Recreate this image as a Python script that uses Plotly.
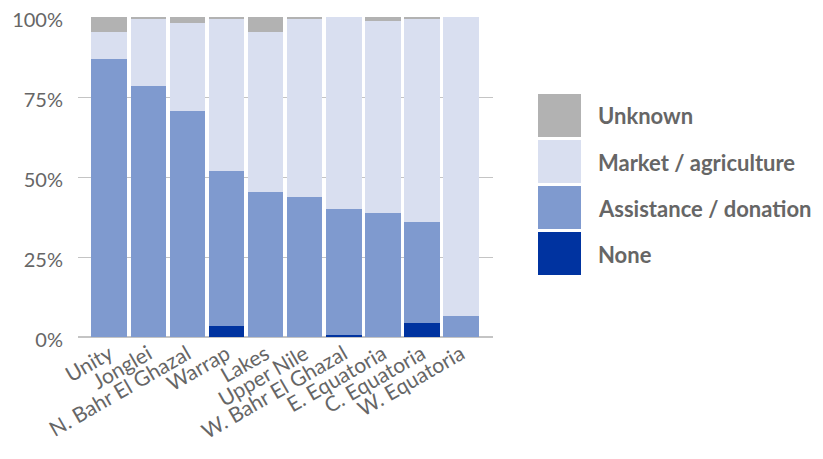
import plotly.graph_objects as go

regions = ["Unity", "Jonglei", "N. Bahr El Ghazal", "Warrap", "Lakes",
           "Upper Nile", "W. Bahr El Ghazal", "E. Equatoria", "C. Equatoria", "W. Equatoria"]

none_pct = [0.0, 0.0, 0.0, 3.5, 0.0, 0.0, 0.7, 0.0, 4.5, 0.0]
assistance_pct = [86.8, 78.4, 70.6, 48.4, 45.3, 43.8, 39.3, 38.8, 31.5, 6.6]
market_pct = [8.4, 20.9, 27.4, 47.4, 49.9, 55.5, 60.0, 59.9, 63.3, 93.4]
unknown_pct = [4.8, 0.7, 2.0, 0.7, 4.8, 0.7, 0.0, 1.3, 0.7, 0.0]

y_ticks = [0, 25, 50, 75, 100]
y_tick_labels = ["0%", "25%", "50%", "75%", "100%"]

series = [
    ("None", none_pct, "#0033a0"),
    ("Assistance / donation", assistance_pct, "#7f9acf"),
    ("Market / agriculture", market_pct, "#d9dff0"),
    ("Unknown", unknown_pct, "#b2b2b2"),
]

FONT = "Lato, 'Open Sans', sans-serif"
GREY = "#666666"

fig = go.Figure()
for name, vals, col in series:
    fig.add_trace(go.Bar(x=regions, y=vals, name=name,
                         marker=dict(color=col, line=dict(width=0)),
                         showlegend=False))

# page adds 8px body margin, so figure coords = screen coords - 8
OFF = 8
W, H = 815, 451
L, R, T, B = 78 - OFF, 493 - OFF, 17 - OFF, 337 - OFF


def px_x(x):
    return (x - OFF - L) / (R - L)


def px_y(y):
    return (B - (y - OFF)) / (B - T)


# hand drawn legend (big square swatches)
legend_items = ["Unknown", "Market / agriculture", "Assistance / donation", "None"]
legend_cols = {n: c for n, _, c in series}
for i, name in enumerate(legend_items):
    top = 94 + i * 46
    fig.add_shape(type="rect", xref="paper", yref="paper",
                  x0=px_x(538), x1=px_x(581), y0=px_y(top + 43), y1=px_y(top),
                  fillcolor=legend_cols[name], line=dict(width=0))
    fig.add_annotation(xref="paper", yref="paper", x=px_x(596), y=px_y(top + 22),
                       text="<b>" + name + "</b>", showarrow=False,
                       xanchor="left", yanchor="middle",
                       font=dict(family=FONT, size=22, color=GREY))

fig.update_layout(
    barmode="stack",
    bargap=0.087,
    width=W, height=H,
    margin=dict(l=L, r=W - R, t=T, b=H - B),
    plot_bgcolor="white",
    paper_bgcolor="white",
    font=dict(family=FONT, color=GREY),
    xaxis=dict(range=[-0.8, 9.82], tickangle=-30, showgrid=False, automargin=False,
               tickfont=dict(size=21, color=GREY), ticks="", showline=False,
               ticklabeloverflow="allow"),
    yaxis=dict(range=[0, 100], tickvals=y_ticks, ticktext=y_tick_labels, automargin=False,
               showgrid=True, gridcolor="#c4c4c4", gridwidth=1,
               zeroline=True, zerolinecolor="#c4c4c4", zerolinewidth=2,
               tickfont=dict(size=20, color=GREY), ticklabelstandoff=14,
               ticklabelshift=3, ticklabeloverflow="allow"),
)

fig.write_html("out.html")
